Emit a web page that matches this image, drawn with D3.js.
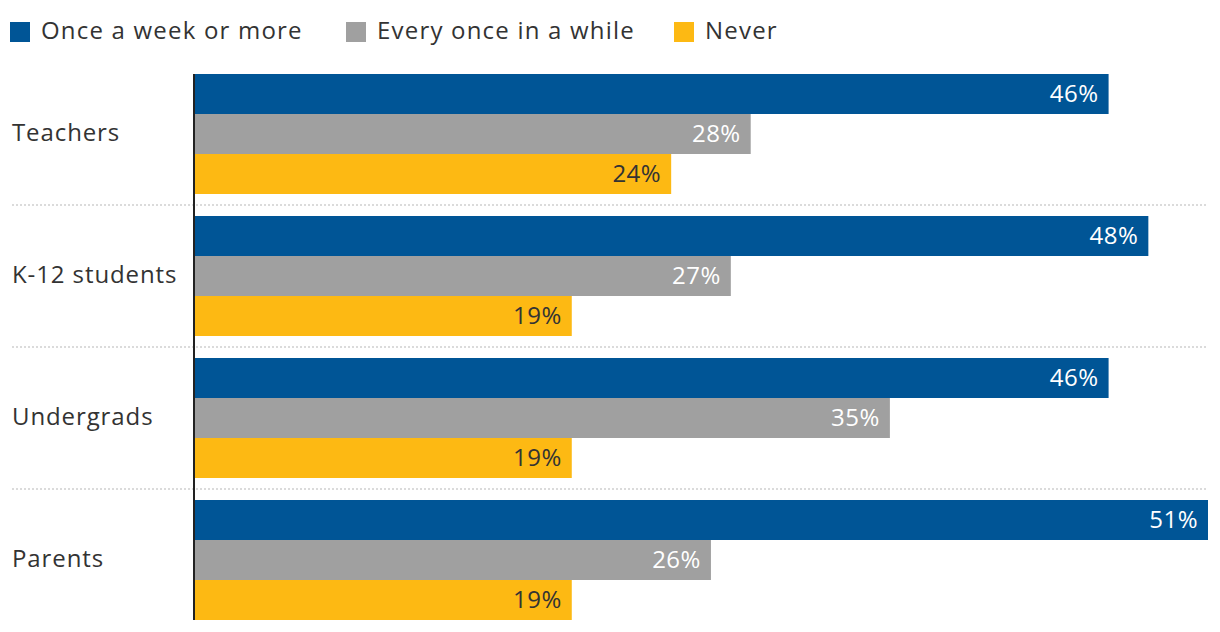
<!DOCTYPE html>
<html><head><meta charset="utf-8">
<script src="https://cdn.jsdelivr.net/npm/d3@7"></script>
<style>
html,body{margin:0;padding:0;background:#fff;}
text{font-family:"Open Sans",Lato,sans-serif;}
</style></head>
<body><svg id="c" width="1220" height="632"></svg>
<script>
const categories = ["Teachers","K-12 students","Undergrads","Parents"];
const seriesNames = ["Once a week or more","Every once in a while","Never"];
const weekly = [46,48,46,51];
const sometimes = [28,27,35,26];
const never = [24,19,19,19];
const colors = ["#005596","#a0a0a0","#fdb913"];
const labelColors = ["#ffffff","#ffffff","#333333"];

const svg = d3.select("#c");
const series = [weekly, sometimes, never];
const x = d3.scaleLinear().domain([0,51]).range([194,1208]);
const y0 = d3.scaleBand().domain(categories).range([74,620]).paddingInner(22/142).paddingOuter(0);
const y1 = d3.scaleBand().domain(d3.range(3)).range([0,y0.bandwidth()]);

// separators
categories.slice(0,-1).forEach((c,i)=>{
  const yy = y0(c)+y0.bandwidth()+11;
  svg.append("line").attr("x1",12).attr("x2",1208).attr("y1",yy).attr("y2",yy)
    .attr("stroke","#cfcfcf").attr("stroke-width",1.5).attr("stroke-dasharray","2,2");
});

const g = svg.append("g");
categories.forEach((c,ci)=>{
  series.forEach((s,si)=>{
    const v = s[ci];
    const top = y0(c)+y1(si);
    g.append("rect").attr("x",x(0)).attr("y",top).attr("width",x(v)-x(0)).attr("height",y1.bandwidth())
      .attr("fill",colors[si]);
    g.append("text").attr("x",x(v)-10).attr("y",top+y1.bandwidth()/2).attr("dy","0.32em")
      .attr("text-anchor","end").attr("fill",labelColors[si]).attr("font-size",24)
      .attr("letter-spacing",0.5).text(v+"%");
  });
  svg.append("text").attr("x",12).attr("y",y0(c)+y0.bandwidth()/2-1).attr("dy","0.34em")
    .attr("fill","#333").attr("font-size",24).attr("letter-spacing",0.9).text(c);
});

// axis line
svg.append("line").attr("x1",194).attr("x2",194).attr("y1",74).attr("y2",620)
  .attr("stroke","#222").attr("stroke-width",2);

// legend
const legX = [10,346,674];
seriesNames.forEach((n,i)=>{
  svg.append("rect").attr("x",legX[i]).attr("y",22).attr("width",20).attr("height",20).attr("fill",colors[i]);
  svg.append("text").attr("x",legX[i]+31).attr("y",32).attr("dy","0.3em").attr("fill","#333")
    .attr("font-size",24).attr("letter-spacing",1.2).text(n);
});
</script></body></html>
